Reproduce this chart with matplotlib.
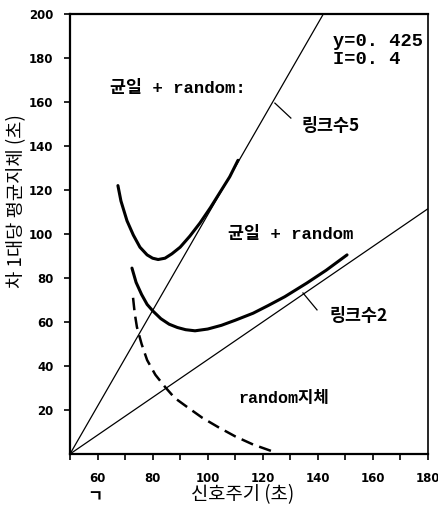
import matplotlib
matplotlib.use('Agg')
import matplotlib.pyplot as plt
from matplotlib.ticker import MultipleLocator

# --- data ---
# upper thick curve: 균일 + random, link count 5
link5_curve_x = [67.4, 68.5, 70.7, 73.0, 75.4, 78.0, 80.0, 82.0, 84.5, 87.0,
                 90.0, 93.5, 97.2, 101.0, 104.5, 108.0, 111.0]
link5_curve_y = [122.0, 115.0, 106.0, 99.5, 94.0, 90.5, 89.0, 88.4, 89.0, 91.0,
                 94.0, 99.0, 105.0, 112.0, 119.0, 126.0, 133.5]

# lower thick curve: 균일 + random, link count 2
link2_curve_x = [72.5, 74.0, 76.0, 78.0, 80.1, 83.0, 86.0, 89.0, 92.0, 95.4,
                 100.0, 105.0, 110.0, 116.5, 122.0, 128.0, 136.0, 143.0, 150.6]
link2_curve_y = [84.5, 78.0, 72.5, 68.0, 65.0, 61.5, 59.0, 57.5, 56.5, 56.0,
                 56.8, 58.5, 60.8, 64.0, 67.5, 71.5, 77.7, 83.5, 90.5]

# dashed curve: random delay
random_x = [72.9, 73.5, 74.3, 76.0, 78.0, 81.0, 84.5, 88.0, 92.5, 98.0,
            103.7, 110.0, 116.5, 124.4]
random_y = [71.0, 64.0, 57.7, 50.0, 42.7, 36.0, 30.5, 25.5, 21.4, 16.5,
            12.3, 8.0, 4.3, 0.8]

# straight reference lines
line5_x = [50, 142]
line5_y = [0, 200]
line2_x = [50, 180]
line2_y = [0, 111.5]

x_ticks_major = [60, 80, 100, 120, 140, 160, 180]
y_ticks_major = [20, 40, 60, 80, 100, 120, 140, 160, 180, 200]

MIXED = ['Liberation Mono', 'Noto Sans CJK KR']
KOREAN = ['Noto Sans CJK KR', 'DejaVu Sans']
NUMBERS = ['DejaVu Sans']

fig = plt.figure(figsize=(4.38, 5.05), dpi=100)
ax = fig.add_axes([70 / 438, 51 / 505, 358 / 438, 440 / 505])

ax.plot(line5_x, line5_y, color='black', lw=0.9, solid_capstyle='butt')
ax.plot(line2_x, line2_y, color='black', lw=0.9, solid_capstyle='butt')
ax.plot(link5_curve_x, link5_curve_y, color='black', lw=2.2,
        solid_capstyle='round', solid_joinstyle='round')
ax.plot(link2_curve_x, link2_curve_y, color='black', lw=2.2,
        solid_capstyle='round', solid_joinstyle='round')
ax.plot(random_x, random_y, color='black', lw=1.8, dashes=(5, 2.6))

# leader ticks pointing at the straight lines
ax.plot([124.4, 130.2], [159.5, 152.7], color='black', lw=0.9)
ax.plot([134.6, 139.7], [73.2, 65.5], color='black', lw=0.9)

ax.set_xlim(50, 180)
ax.set_ylim(0, 200)

ax.xaxis.set_major_locator(plt.FixedLocator(x_ticks_major))
ax.xaxis.set_minor_locator(MultipleLocator(10))
ax.yaxis.set_major_locator(plt.FixedLocator(y_ticks_major))
ax.set_xticklabels([str(t) for t in x_ticks_major])
ax.set_yticklabels([str(t) for t in y_ticks_major])

ax.tick_params(axis='x', which='both', direction='out', length=4, width=1.2,
               pad=9)
ax.tick_params(axis='y', which='both', direction='out', length=4, width=1.2,
               pad=8)
for lab in ax.get_xticklabels() + ax.get_yticklabels():
    lab.set_family(NUMBERS)
    lab.set_fontweight('bold')
    lab.set_fontsize(8.5)

for side, sp in ax.spines.items():
    sp.set_linewidth(1.6 if side != 'right' else 1.2)

# annotations
ax.text(64.5, 166.4, '균일 + random:', family=MIXED, fontsize=12.5,
        fontweight='bold', ha='left', va='center')
ax.text(107.4, 100.0, '균일 + random', family=MIXED, fontsize=12.5,
        fontweight='bold', ha='left', va='center')
ax.text(134.2, 149.0, '링크수5', family=KOREAN, fontsize=12.5,
        fontweight='bold', ha='left', va='center')
ax.text(144.4, 62.7, '링크수2', family=KOREAN, fontsize=12.5,
        fontweight='bold', ha='left', va='center')
ax.text(111.0, 25.0, 'random지체', family=MIXED, fontsize=12,
        fontweight='bold', ha='left', va='center')
ax.text(145.5, 187.5, 'y=0. 425', family=['Liberation Mono'], fontsize=13.5,
        fontweight='bold', ha='left', va='center')
ax.text(145.5, 179.5, 'I=0. 4', family=['Liberation Mono'], fontsize=13.5,
        fontweight='bold', ha='left', va='center')

# axis titles
fig.text(17 / 438, 1 - 201 / 505, '차 1대당 평균지체 (초)', family=KOREAN,
         fontsize=13.5, fontweight='medium', rotation=90,
         ha='center', va='center')
fig.text(243 / 438, 1 - 495 / 505, '신호주기 (초)', family=KOREAN,
         fontsize=13.5, ha='center', va='center')
fig.text(95 / 438, 1 - 497 / 505, 'ㄱ', family=KOREAN, fontsize=12,
         fontweight='bold', ha='center', va='center')

fig.savefig('out.png', dpi=100, facecolor='white')
